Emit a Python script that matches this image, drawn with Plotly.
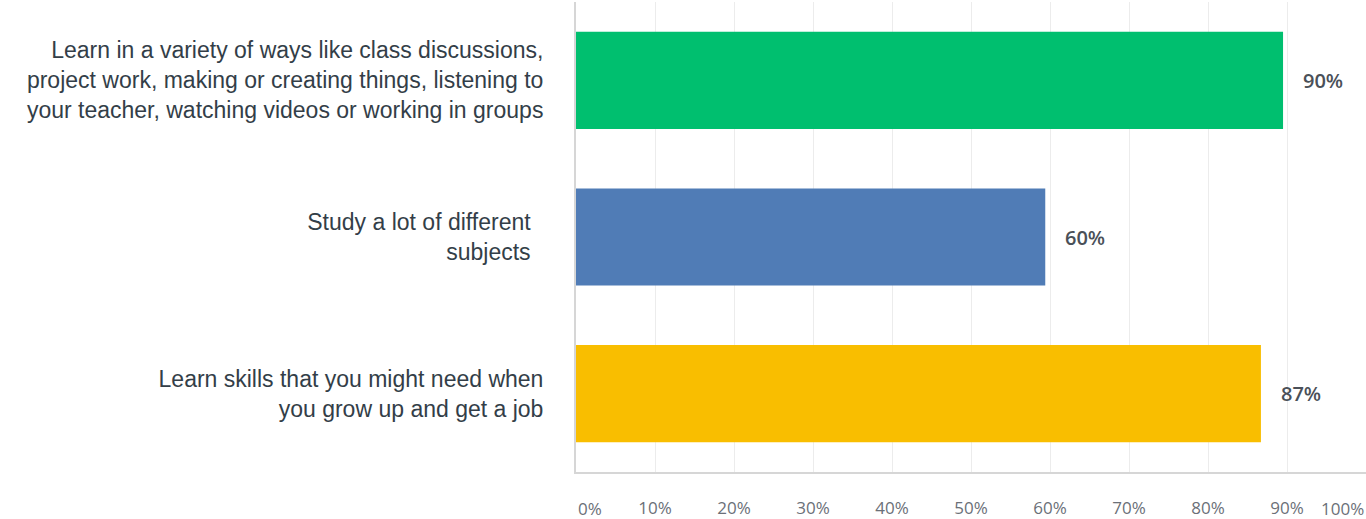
import plotly.graph_objects as go

categories = [
    "Learn in a variety of ways like class discussions,<br>project work, making or creating things, listening to<br>your teacher, watching videos or working in groups",
    "Study a lot of different\u00a0\u00a0<br>subjects\u00a0\u00a0",
    "Learn skills that you might need when<br>you grow up and get a job",
]
values = [89.5, 59.4, 86.7]
value_labels = ["90%", "60%", "87%"]
colors = ["#00BF6F", "#507CB6", "#F9BE00"]
tick_vals = [10, 20, 30, 40, 50, 60, 70, 80, 90]
tick_text = ["10%", "20%", "30%", "40%", "50%", "60%", "70%", "80%", "90%"]

fig = go.Figure()
fig.add_trace(go.Bar(
    x=values, y=categories, orientation="h",
    marker=dict(color=colors, line=dict(width=0)),
    width=0.62, hoverinfo="skip",
))

for cat, v, lab in zip(categories, values, value_labels):
    fig.add_annotation(x=v, y=cat, xref="x", yref="y", text=lab, showarrow=False,
                       xanchor="left", xshift=18,
                       font=dict(family="Open Sans, Arial", size=20, color="#4a5058", weight=600))

tick_font = dict(family="Open Sans, Arial", size=17, color="#6b7078")
# end tick labels anchored inward
fig.add_annotation(x=0, y=0, xref="x", yref="paper", text="0%", showarrow=False,
                   xanchor="left", yanchor="middle", xshift=0, yshift=-36, font=tick_font)
fig.add_annotation(x=100, y=0, xref="x", yref="paper", text="100%", showarrow=False,
                   xanchor="right", yanchor="middle", yshift=-36, font=tick_font)

fig.update_layout(
    width=1366, height=519,
    margin=dict(l=576, r=0, t=2, b=47, autoexpand=False),
    paper_bgcolor="white", plot_bgcolor="white",
    showlegend=False,
    bargap=0.38,
)
fig.update_xaxes(
    range=[0, 100], tickvals=tick_vals, ticktext=tick_text,
    showgrid=True, gridcolor="#ececec", gridwidth=1,
    showline=True, linecolor="#d6d6d6", linewidth=2,
    zeroline=False, ticks="", ticklabelstandoff=20,
    tickfont=tick_font,
    fixedrange=True,
)
fig.update_yaxes(
    autorange="reversed", categoryorder="array", categoryarray=categories,
    showline=True, linecolor="#d6d6d6", linewidth=2,
    showgrid=False, ticks="", ticklabelstandoff=26,
    tickfont=dict(family="Arial, Liberation Sans", size=23, color="#333e48"),
    automargin=False, fixedrange=True,
)

fig.write_html("out.html", config={"displayModeBar": False},
               post_script="document.body.style.margin='0';document.body.style.overflow='hidden';")
